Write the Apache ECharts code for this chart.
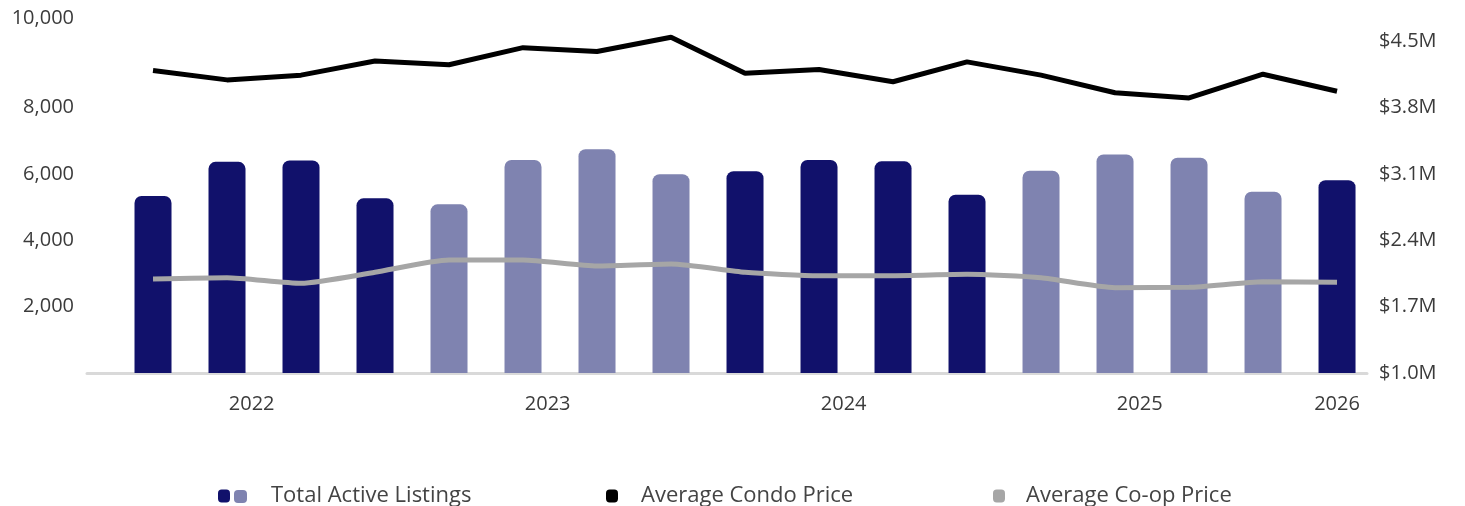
<!DOCTYPE html>
<html>
<head>
<meta charset="utf-8">
<script src="https://cdn.jsdelivr.net/npm/echarts@6/dist/echarts.min.js"></script>
<style>
html,body{margin:0;padding:0;background:#fff;}
#chart{width:1465px;height:506px;}
</style>
</head>
<body>
<div id="chart"></div>
<script>
// Quarterly periods (month of each bar)
const categories = ['2021-09','2021-12','2022-03','2022-06','2022-09','2022-12','2023-03','2023-06','2023-09','2023-12','2024-03','2024-06','2024-09','2024-12','2025-03','2025-06','2025-09'];
// Total active listings (left axis)
const listings = [5330, 6360, 6400, 5260, 5080, 6415, 6740, 5990, 6075, 6415, 6375, 5370, 6095, 6585, 6485, 5460, 5805];
// Average condo price, $M (right axis)
const condoPrice = [4.19, 4.09, 4.14, 4.29, 4.25, 4.43, 4.39, 4.54, 4.16, 4.20, 4.07, 4.28, 4.14, 3.955, 3.90, 4.15, 3.97];
// Average co-op price, $M (right axis)
const coopPrice = [1.99, 2.005, 1.946, 2.062, 2.19, 2.19, 2.128, 2.149, 2.062, 2.026, 2.026, 2.04, 2.005, 1.90, 1.903, 1.962, 1.956];
// Year tick labels
const yearLabels = ['2022','2023','2024','2025','2026'];

const DARK = '#11116B', LIGHT = '#7F83B0', GRAY = '#A6A6A6';
const FONT = 'Open Sans';
const TXT = '#3b3b3b';
const ICON = 'path://M4,0 H9 Q13,0 13,4 V10 Q13,14 9,14 H4 Q0,14 0,10 V4 Q0,0 4,0 Z';

function monthIndex(s){ const [y,m] = s.split('-').map(Number); return y*12 + (m-1); }
const start = monthIndex(categories[0]);
const last = categories.length - 1;
const yearPos = {};
const yearTicks = yearLabels.map(y => {
  const p = Math.min((monthIndex(y + '-01') - start) / 3, last);
  yearPos[p.toFixed(4)] = y;
  return p;
});

function legendText(padLeft){
  return {color: '#444', fontFamily: FONT, fontSize: 22, padding: [0,0,7,padLeft]};
}

const chart = echarts.init(document.getElementById('chart'), null, {renderer:'canvas'});
chart.setOption({
  animation: false,
  grid: {left: 87, right: 98, top: 41, bottom: 133, containLabel: false},
  xAxis: {
    type: 'value', min: -0.892, max: 16.405,
    axisLine: {show: true, lineStyle: {color: '#d9d9d9', width: 3}},
    axisTick: {show: false},
    splitLine: {show: false},
    axisLabel: {
      customValues: yearTicks,
      margin: 21,
      color: TXT, fontFamily: FONT, fontSize: 20,
      formatter: v => yearPos[Number(v).toFixed(4)] || ''
    }
  },
  yAxis: [
    {
      type: 'value', min: 0, max: 10000, interval: 2000,
      axisLine: {show: false}, axisTick: {show: false}, splitLine: {show: false},
      axisLabel: {
        margin: 13, color: TXT, fontFamily: FONT, fontSize: 20,
        formatter: v => v === 0 ? '' : (v === 10000 ? '{top|10,000}' : v.toLocaleString('en-US')),
        rich: {top: {padding: [0,0,46,0], color: TXT, fontFamily: FONT, fontSize: 20}}
      }
    },
    {
      type: 'value', min: 1.0, max: 4.5, interval: 0.7,
      axisLine: {show: false}, axisTick: {show: false}, splitLine: {show: false},
      axisLabel: {
        margin: 12, color: TXT, fontFamily: FONT, fontSize: 20,
        formatter: v => '$' + Number(v).toFixed(1) + 'M'
      }
    }
  ],
  legend: [
    {
      data: [{name: 'Total Active Listings', itemStyle: {color: DARK}}],
      left: 213, top: 480, icon: ICON, itemWidth: 12, itemHeight: 13,
      textStyle: legendText(36)
    },
    {
      data: [{name: 'Average Condo Price', itemStyle: {color: '#000'}}],
      left: 601, top: 480, icon: ICON, itemWidth: 12, itemHeight: 13,
      textStyle: legendText(18)
    },
    {
      data: [{name: 'Average Co-op Price', itemStyle: {color: GRAY}}],
      left: 988, top: 480, icon: ICON, itemWidth: 12, itemHeight: 13,
      textStyle: legendText(16)
    }
  ],
  graphic: [
    {id: 'lm', type: 'rect', left: 234, top: 490, shape: {x: 0, y: 0, width: 13, height: 13, r: 4}, style: {fill: LIGHT}, z: 100}
  ],
  series: [
    {
      name: 'Total Active Listings', type: 'bar', yAxisIndex: 0,
      barWidth: 37,
      data: listings.map((v, i) => [i, v]),
      itemStyle: {
        borderRadius: [7,7,0,0],
        color: p => (Math.floor(p.dataIndex / 4) % 2 === 0 ? DARK : LIGHT)
      },
      z: 1
    },
    {
      name: 'Average Condo Price', type: 'line', yAxisIndex: 1, clip: false,
      data: condoPrice.map((v, i) => [i, v]),
      symbol: 'none', lineStyle: {color: '#000', width: 5}, itemStyle: {color: '#000'},
      z: 3
    },
    {
      name: 'Average Co-op Price', type: 'line', yAxisIndex: 1, clip: false,
      data: coopPrice.map((v, i) => [i, v]),
      symbol: 'none', smooth: 0.2, lineStyle: {color: GRAY, width: 5}, itemStyle: {color: GRAY},
      z: 2
    }
  ]
});
</script>
</body>
</html>
